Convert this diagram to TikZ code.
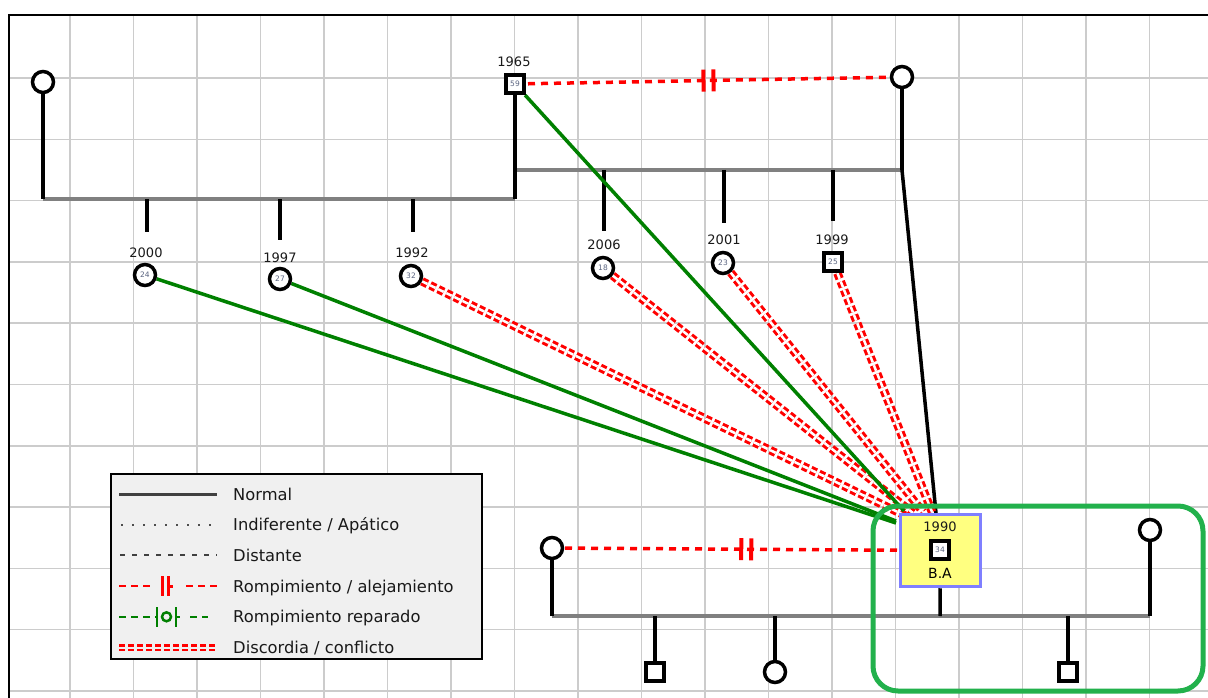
\documentclass[tikz,border=0pt]{standalone}
\usepackage{fontspec}
\setmainfont{DejaVu Sans}
\usetikzlibrary{calc,decorations.markings}
\pgfdeclarelayer{gridlayer}
\pgfdeclarelayer{linelayer}
\pgfsetlayers{gridlayer,linelayer,main}
\definecolor{gridc}{HTML}{CCCCCC}
\definecolor{famgray}{HTML}{808080}
\definecolor{okgreen}{HTML}{008000}
\definecolor{boxgreen}{HTML}{22B14C}
\definecolor{bablue}{HTML}{7F7FFF}
\definecolor{bayellow}{HTML}{FFFF80}
\definecolor{leggray}{HTML}{F0F0F0}
\definecolor{numc}{HTML}{5A6480}
\tikzset{
 fcircle/.style={circle, draw=black, line width=3.5pt, minimum size=21pt, inner sep=0pt, fill=white},
 fsquare/.style={rectangle, draw=black, line width=3.8pt, minimum size=18.5pt, inner sep=0pt, fill=white},
 numtxt/.style={font=\fontsize{7.5}{8}\selectfont, text=numc},
 yeartxt/.style={font=\fontsize{13}{14}\selectfont, text=black!90, inner sep=1pt},
 famline/.style={draw=famgray, line width=3.5pt},
 kinline/.style={draw=black, line width=3.5pt},
 normalrel/.style={draw=okgreen, line width=3.5pt},
 conflict/.style={draw=red, line width=3pt, double=white, double distance=2.5pt, dash pattern=on 6pt off 3pt},
 cutoff/.style={draw=red, line width=3.5pt, dash pattern=on 7pt off 6pt, postaction={decorate},
   decoration={markings, mark=at position 0.5 with {\draw[solid, red, line width=4pt] (-5,-11) -- (-5,11) (5,-11) -- (5,11);}}},
 legtxt/.style={anchor=base west, font=\fontsize{16.3}{18}\selectfont, text=black!90, inner sep=0pt},
}
\begin{document}
\begin{tikzpicture}[x=1pt,y=-1pt]
\useasboundingbox (0,0) rectangle (1208,698);
\begin{pgfonlayer}{gridlayer}
 \foreach \k in {1,...,18} \draw[gridc, line width=1.5pt] ({6.5+63.5*\k},15) -- ({6.5+63.5*\k},698);
 \foreach \k in {1,...,11} \draw[gridc, line width=1.5pt] (9,{16.7+61.3*\k}) -- (1208,{16.7+61.3*\k});
 \draw[black, line width=2.5pt] (9,698) -- (9,15) -- (1208,15);
\end{pgfonlayer}

% persons
\node[fcircle] (m1) at (43,82) {};
\node[fsquare, numtxt] (f1965) at (515,84) {59};
\node[yeartxt] (y1965) at (514,62) {1965};
\node[fcircle] (m2) at (902,77) {};

\node[fcircle, numtxt] (c24) at (145,275) {24};
\node[yeartxt] (y2000) at (146,253) {2000};
\node[fcircle, numtxt] (c27) at (280,279) {27};
\node[yeartxt] (y1997) at (280,258) {1997};
\node[fcircle, numtxt] (c32) at (411,276) {32};
\node[yeartxt] (y1992) at (412,253) {1992};
\node[fcircle, numtxt] (c18) at (603,268) {18};
\node[yeartxt] (y2006) at (604,245) {2006};
\node[fcircle, numtxt] (c23) at (723,263) {23};
\node[yeartxt] (y2001) at (724,240) {2001};
\node[fsquare, numtxt] (s25) at (833,262) {25};
\node[yeartxt] (y1999) at (832,240) {1999};

\node[draw=bablue, line width=3.5pt, fill=bayellow, minimum width=80pt, minimum height=72pt, inner sep=0pt] (ba) at (940.5,550.5) {};
\node[yeartxt] (y1990) at (940,527) {1990};
\node[fsquare, numtxt] (s34) at (940,550) {34};
\node[font=\fontsize{14}{16}\selectfont, inner sep=1pt] (baname) at (940,573) {B.A};

\node[fcircle] (w1) at (552,548) {};
\node[fcircle] (w2) at (1150,530) {};
\node[fsquare] (k1) at (655,672) {};
\node[fcircle] (k2) at (775,672) {};
\node[fsquare] (k3) at (1068,672) {};

% coordinates
\coordinate (L1a) at (43,199);  \coordinate (L1b) at (515,199);
\coordinate (L2a) at (515,170); \coordinate (L2b) at (902,170);
\coordinate (L3a) at (552,616); \coordinate (L3b) at (1150,616);
\coordinate (d24a) at (147,199) ; \coordinate (d24b) at (147,232);
\coordinate (d27a) at (280,199) ; \coordinate (d27b) at (280,240);
\coordinate (d32a) at (413,199) ; \coordinate (d32b) at (413,232);
\coordinate (d18a) at (604,170) ; \coordinate (d18b) at (604,231);
\coordinate (d23a) at (724,170) ; \coordinate (d23b) at (724,223);
\coordinate (d25a) at (833,170) ; \coordinate (d25b) at (833,221);
\coordinate (bt) at (936,513);
\coordinate (dba) at (940,616);
\coordinate (dk1) at (655,616); \coordinate (dk2) at (775,616); \coordinate (dk3) at (1068,616);
\coordinate (g24) at (896,523); \coordinate (g27) at (896,521); \coordinate (g59) at (904,511);
\coordinate (x32) at (906,516); \coordinate (x18) at (913,513); \coordinate (x23) at (923,512); \coordinate (x25) at (932,512);

\begin{pgfonlayer}{linelayer}
 \draw[famline] (L1a) -- (L1b);
 \draw[famline] (L2a) -- (L2b);
 \draw[famline] (L3a) -- (L3b);
 \draw[kinline] (m1) -- (L1a);
 \draw[kinline] (f1965) -- (L1b);
 \draw[kinline] (m2) -- (L2b);
 \draw[kinline] (L2b) -- (bt);
 \draw[kinline] (d24a) -- (d24b);
 \draw[kinline] (d27a) -- (d27b);
 \draw[kinline] (d32a) -- (d32b);
 \draw[kinline] (d18a) -- (d18b);
 \draw[kinline] (d23a) -- (d23b);
 \draw[kinline] (d25a) -- (d25b);
 \draw[kinline] (w1) -- (L3a);
 \draw[kinline] (w2) -- (L3b);
 \draw[kinline] (ba) -- (dba);
 \draw[kinline] (dk1) -- (k1);
 \draw[kinline] (dk2) -- (k2);
 \draw[kinline] (dk3) -- (k3);
 \draw[cutoff] (f1965.center) -- (m2.center);
 \draw[cutoff] (w1.center) -- (ba.center);
 \draw[conflict] (c32) -- (x32);
 \draw[conflict] (c18) -- (x18);
 \draw[conflict] (c23) -- (x23);
 \draw[conflict] (s25) -- (x25);
 \draw[normalrel] (c24) -- (g24);
 \draw[normalrel] (c27) -- (g27);
 \draw[normalrel] (f1965) -- (g59);
\end{pgfonlayer}

\draw[boxgreen, line width=5pt, rounded corners=25pt] (873,506) rectangle (1203,691);

% legend
\node[draw=black, line width=2pt, fill=leggray, minimum width=371pt, minimum height=185pt, inner sep=0pt] (legend) at (296.5,566.5) {};
\draw[black!75, line width=3pt] (119,494) -- (217,494);
\draw[black!70, line width=1.6pt, dash pattern=on 1.6pt off 9.4pt] (121,524.7) -- (217,524.7);
\draw[black!75, line width=2pt, dash pattern=on 5pt off 7pt] (120,555.4) -- (217,555.4);
\draw[red, line width=2.5pt, dash pattern=on 6.5pt off 5.5pt] (119,586) -- (150,586);
\draw[red, line width=2.5pt, dash pattern=on 6.5pt off 5.5pt] (186,586) -- (217,586);
\draw[red, line width=3pt] (162.5,576) -- (162.5,596) (168.5,576) -- (168.5,596) (168.5,586) -- (173,586);
\draw[okgreen, line width=2.5pt, dash pattern=on 6.5pt off 5.5pt] (119,616.8) -- (157,616.8);
\draw[okgreen, line width=2.5pt] (157,607) -- (157,627) (176,607) -- (176,627) (176,616.8) -- (180,616.8);
\draw[okgreen, line width=2.5pt] (166.5,616.8) circle[radius=4.5pt];
\draw[okgreen, line width=2.5pt, dash pattern=on 6.5pt off 5.5pt] (190,616.8) -- (208,616.8);
\draw[draw=red, line width=2.5pt, double=leggray, double distance=2pt, dash pattern=on 6pt off 3pt] (119,647.5) -- (217,647.5);
\node[legtxt] (t1) at (233,500) {Normal};
\node[legtxt] (t2) at (233,530.7) {Indiferente / Apático};
\node[legtxt] (t3) at (233,561.4) {Distante};
\node[legtxt] (t4) at (233,592.1) {Rompimiento / alejamiento};
\node[legtxt] (t5) at (233,622.8) {Rompimiento reparado};
\node[legtxt] (t6) at (233,653.5) {Discordia / conflicto};
\end{tikzpicture}
\end{document}
